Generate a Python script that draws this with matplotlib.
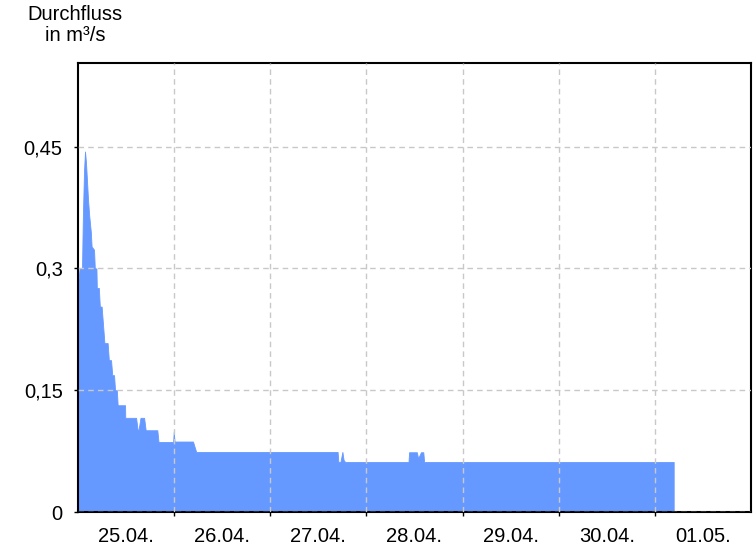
import matplotlib
matplotlib.use("Agg")
import matplotlib.pyplot as plt
import numpy as np

plt.rcParams['font.family'] = ['Liberation Sans', 'DejaVu Sans']

# hours since 25.04. 00:00 and discharge (m³/s)
hours = [0.0, 0.4, 1.0, 1.2, 1.5, 1.75, 2.0, 2.5, 2.8, 3.2, 3.4, 4.0, 4.2, 4.6,
         4.7, 5.2, 5.45, 5.9, 6.6, 7.4, 7.7, 8.25, 8.55, 9.0, 9.25, 9.7, 9.9,
         11.75, 11.8, 14.5, 14.9, 15.1, 15.6, 16.5, 16.9, 19.8, 20.1, 23.75,
         23.9, 24.1, 28.7, 29.5, 64.8, 65.0, 65.5, 66.0, 66.3, 66.7, 82.5, 82.65,
         84.6, 84.9, 85.6, 86.2, 86.4, 148.7]
values = [0.28, 0.30, 0.30, 0.36, 0.42, 0.444, 0.43, 0.385, 0.365, 0.345, 0.327,
          0.323, 0.30, 0.30, 0.276, 0.276, 0.253, 0.253, 0.208, 0.208, 0.187,
          0.187, 0.1685, 0.1685, 0.15, 0.15, 0.1315, 0.1315, 0.116, 0.116,
          0.1007, 0.1007, 0.116, 0.116, 0.1007, 0.1007, 0.0863, 0.0863, 0.099,
          0.0868, 0.0868, 0.074, 0.074, 0.0616, 0.0616, 0.074, 0.064, 0.0616,
          0.0616, 0.0736, 0.0736, 0.066, 0.0736, 0.0736, 0.0616, 0.0616]

day_labels = ["25.04.", "26.04.", "27.04.", "28.04.", "29.04.", "30.04.", "01.05."]
y_ticks = [0, 0.15, 0.3, 0.45]
y_labels = ["0", "0,15", "0,3", "0,45"]

fig = plt.figure(figsize=(7.56, 5.46), dpi=100)
ax = fig.add_axes([78/756, 34/546, 673/756, 449/546])

ax.fill_between(hours, values, 0, color='#6699FF', edgecolor='#6699FF',
                linewidth=0.6)

ax.set_xlim(0, 168)
ax.set_ylim(0, 0.553)

ax.set_xticks(np.arange(24, 168, 24))
ax.set_xticks(np.arange(12, 168, 24), minor=True)
ax.set_xticklabels([])
ax.set_xticklabels(day_labels, minor=True)
ax.tick_params(axis='x', which='minor', length=0, labelsize=14.5, pad=11)
ax.tick_params(axis='x', which='major', length=3, width=1)
ax.set_yticks(y_ticks)
ax.set_yticklabels(y_labels)
ax.tick_params(axis='y', length=3, width=1, labelsize=14.5, pad=8)

ax.grid(True, which='major', color='#C8C8C8', linestyle=(0, (4, 3)), linewidth=1)
ax.set_axisbelow(False)
for s in ax.spines.values():
    s.set_linewidth(1.5)

fig.text(75/756, 1 - 5/546, "Durchfluss\nin m³/s", ha='center', va='top',
         fontsize=14.5, linespacing=1.15)

fig.savefig("out.png", dpi=100)
